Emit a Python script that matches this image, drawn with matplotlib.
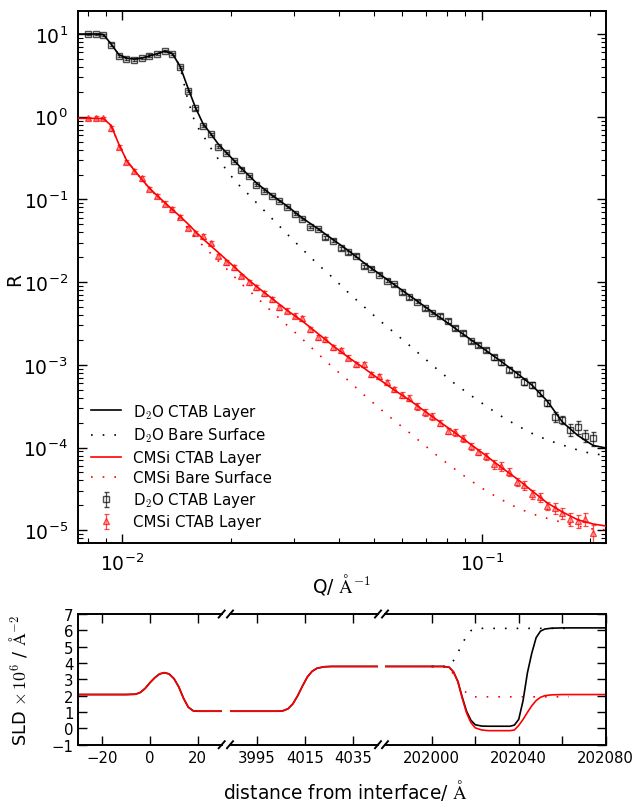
import numpy as np
import matplotlib
matplotlib.use('Agg')
import matplotlib.pyplot as plt
from matplotlib.ticker import FixedLocator, FixedFormatter, NullFormatter, LogLocator

plt.rcParams['font.family'] = ['DejaVu Sans']
plt.rcParams['mathtext.fontset'] = 'cm'

# ---------------- reflectivity data ----------------
q = [0.00803, 0.008433, 0.008857, 0.009302, 0.009769, 0.010260, 0.010775, 0.011316, 0.011884, 0.012481,
     0.013108, 0.013766, 0.014457, 0.015183, 0.015946, 0.016747, 0.017588, 0.018471, 0.019399, 0.020373,
     0.021396, 0.022471, 0.023599, 0.024784, 0.026029, 0.027336, 0.028709, 0.030151, 0.031665, 0.033255,
     0.034925, 0.036679, 0.038521, 0.040455, 0.042487, 0.044620, 0.046861, 0.049214, 0.051685, 0.054281,
     0.057007, 0.059870, 0.062876, 0.066034, 0.069350, 0.072833, 0.076491, 0.080332, 0.084366, 0.088603,
     0.093053, 0.097726, 0.10263, 0.10779, 0.11320, 0.11888, 0.12485, 0.13112, 0.13771, 0.14462,
     0.15188, 0.15951, 0.16752, 0.17593, 0.18477, 0.19404, 0.20379]

r_d2o = [10.0, 10.0, 9.8, 7.47, 5.39, 5.01, 4.87, 5.17, 5.50, 5.78,
         6.27, 5.70, 4.03, 2.06, 1.26, 0.778, 0.618, 0.427, 0.364, 0.293,
         0.230, 0.190, 0.148, 0.126, 0.109, 0.0948, 0.0809, 0.0661, 0.0580, 0.0461,
         0.0435, 0.0348, 0.0317, 0.0258, 0.0229, 0.0208, 0.01545, 0.01460, 0.01236, 0.01040,
         0.00940, 0.00753, 0.00655, 0.00580, 0.00482, 0.00423, 0.00393, 0.00339, 0.00281, 0.00243,
         0.00192, 0.00175, 0.00152, 0.00124, 0.00107, 0.000873, 0.000774, 0.000628, 0.000570, 0.000456,
         0.000345, 0.000236, 0.000217, 0.000164, 0.000179, 0.000139, 0.000130]

err_d2o = [0.03, 0.03, 0.03, 0.03, 0.03, 0.03, 0.03, 0.03, 0.03, 0.03,
           0.03, 0.03, 0.03, 0.03, 0.03, 0.03, 0.03, 0.03, 0.03, 0.03,
           0.03, 0.03, 0.03, 0.03, 0.03, 0.03, 0.03, 0.03, 0.03, 0.03,
           0.03, 0.04, 0.04, 0.04, 0.04, 0.04, 0.04, 0.04, 0.04, 0.04,
           0.04, 0.04, 0.04, 0.04, 0.04, 0.04, 0.05, 0.05, 0.05, 0.05,
           0.05, 0.05, 0.05, 0.07, 0.07, 0.07, 0.07, 0.09, 0.09, 0.09,
           0.09, 0.13, 0.12, 0.16, 0.18, 0.17, 0.20]

r_cmsi = [0.957, 0.964, 0.957, 0.724, 0.434, 0.286, 0.222, 0.180, 0.1336, 0.1109,
          0.0892, 0.0759, 0.0616, 0.0448, 0.0393, 0.0358, 0.0297, 0.0209, 0.0173, 0.0151,
          0.01195, 0.00995, 0.00865, 0.00738, 0.00625, 0.00496, 0.00451, 0.00393, 0.00365, 0.00271,
          0.00217, 0.00203, 0.00162, 0.00150, 0.00122, 0.00101, 0.00102, 0.000774, 0.000733, 0.000620,
          0.000510, 0.000431, 0.000397, 0.000315, 0.000267, 0.000238, 0.000198, 0.000160, 0.000153, 0.000129,
          0.000103, 8.9e-5, 7.83e-5, 6.32e-5, 5.93e-5, 5.10e-5, 3.86e-5, 3.52e-5, 2.74e-5, 2.50e-5,
          1.98e-5, 1.84e-5, 1.61e-5, 1.37e-5, 1.30e-5, 1.37e-5, 9.2e-6]

err_cmsi = [0.05, 0.05, 0.05, 0.06, 0.06, 0.06, 0.06, 0.06, 0.06, 0.06,
            0.06, 0.06, 0.06, 0.06, 0.06, 0.06, 0.06, 0.06, 0.06, 0.06,
            0.06, 0.07, 0.07, 0.07, 0.07, 0.07, 0.07, 0.07, 0.07, 0.07,
            0.07, 0.07, 0.07, 0.07, 0.07, 0.07, 0.07, 0.07, 0.07, 0.07,
            0.07, 0.09, 0.09, 0.09, 0.09, 0.09, 0.09, 0.09, 0.09, 0.09,
            0.09, 0.09, 0.09, 0.12, 0.12, 0.12, 0.12, 0.12, 0.12, 0.12,
            0.12, 0.15, 0.15, 0.17, 0.18, 0.18, 0.25]

# ---------------- model curves ----------------
q_model = [0.0075, 0.00803, 0.008433, 0.008857, 0.009302, 0.009769, 0.010260, 0.010775, 0.011316, 0.011884,
           0.012481, 0.013108, 0.013766, 0.014457, 0.015183, 0.015946, 0.016747, 0.017588, 0.018471, 0.019399,
           0.020373, 0.021396, 0.022471, 0.023599, 0.026029, 0.028709, 0.031665, 0.034925, 0.038521, 0.042487,
           0.046861, 0.051685, 0.057007, 0.062876, 0.069350, 0.076491, 0.084366, 0.093053, 0.10263, 0.11320,
           0.12485, 0.13771, 0.15188, 0.16752, 0.18477, 0.20379, 0.2214]

fit_d2o_layer = [10.0, 10.0, 10.0, 9.86, 7.57, 5.65, 5.13, 4.99, 5.13, 5.42,
                 5.78, 6.23, 5.81, 4.10, 2.29, 1.31, 0.828, 0.626, 0.468, 0.374,
                 0.300, 0.240, 0.195, 0.158, 0.113, 0.0832, 0.0596, 0.0445, 0.0327, 0.0241,
                 0.01726, 0.0127, 0.00935, 0.00689, 0.00507, 0.00373, 0.00275, 0.00202, 0.00149, 0.001096,
                 0.000796, 0.000570, 0.000365, 0.000203, 0.000140, 0.000106, 0.0000986]

fit_d2o_bare = [10.0, 10.0, 10.0, 9.86, 7.57, 5.65, 5.13, 4.99, 5.13, 5.42,
                5.78, 6.23, 5.81, 4.10, 1.637, 0.828, 0.601, 0.422, 0.308, 0.233,
                0.1765, 0.1397, 0.1140, 0.0912, 0.0591, 0.0382, 0.0250, 0.0165, 0.01127, 0.00748,
                0.00510, 0.00350, 0.00245, 0.001716, 0.001189, 0.000825, 0.000584, 0.000428, 0.000318, 0.000239,
                0.000186, 0.0001485, 0.0001236, 0.0001072, 0.0000933, 0.0000834, 0.0000811]

fit_cmsi_layer = [0.956, 0.956, 0.956, 0.951, 0.783, 0.468, 0.300, 0.2267, 0.1755, 0.1373,
                  0.1115, 0.0918, 0.0755, 0.0625, 0.0511, 0.0411, 0.0334, 0.0276, 0.02286, 0.01887,
                  0.01557, 0.01281, 0.01060, 0.00887, 0.00637, 0.00456, 0.00338, 0.00240, 0.001702, 0.001232,
                  0.000920, 0.000673, 0.000496, 0.000375, 0.000275, 0.000203, 0.0001497, 0.0001093, 0.0000798, 0.0000576,
                  0.0000422, 0.0000300, 0.0000214, 0.0000166, 0.00001336, 0.00001189, 0.00001124]

fit_cmsi_bare = [0.956, 0.956, 0.956, 0.951, 0.783, 0.468, 0.300, 0.2267, 0.1755, 0.1355,
                 0.1084, 0.0868, 0.0704, 0.0571, 0.0451, 0.0346, 0.0276, 0.02230, 0.01810, 0.01477,
                 0.01189, 0.00962, 0.00792, 0.00655, 0.00441, 0.00301, 0.00205, 0.001370, 0.000928, 0.000646,
                 0.000437, 0.000302, 0.000212, 0.0001510, 0.0001060, 0.0000746, 0.0000542, 0.0000398, 0.0000300, 0.0000235,
                 0.0000188, 0.0000158, 0.0000139, 0.0000124, 0.0000112, 0.0000103, 0.0000101]

# ---------------- SLD profiles ----------------
z = [-30, -10, -6, -4, -2, 0, 2, 4, 6, 8, 10, 12, 14, 16, 18, 20, 30,
     4004, 4006, 4008, 4010, 4012, 4014, 4016, 4018, 4020, 4023, 4026, 4045,
     202005, 202008, 202010, 202012, 202014, 202016, 202018, 202020, 202023, 202026,
     202036, 202038, 202040, 202042, 202044, 202046, 202048, 202050, 202052, 202055, 202060, 202080]

sld_cmsi_layer = [2.07, 2.07, 2.09, 2.2, 2.45, 2.8, 3.1, 3.33, 3.41, 3.33, 3.05, 2.55, 1.85, 1.3, 1.08, 1.05, 1.05,
                  1.05, 1.08, 1.2, 1.5, 2.0, 2.6, 3.15, 3.5, 3.68, 3.77, 3.79, 3.79,
                  3.79, 3.74, 3.45, 2.85, 1.85, 0.95, 0.35, 0.03, -0.1, -0.14,
                  -0.14, -0.1, 0.18, 0.55, 0.98, 1.38, 1.7, 1.9, 2.0, 2.05, 2.07, 2.07]

sld_d2o_layer = [2.07, 2.07, 2.09, 2.2, 2.45, 2.8, 3.1, 3.33, 3.41, 3.33, 3.05, 2.55, 1.85, 1.3, 1.08, 1.05, 1.05,
                 1.05, 1.08, 1.2, 1.5, 2.0, 2.6, 3.15, 3.5, 3.68, 3.77, 3.79, 3.79,
                 3.79, 3.74, 3.46, 2.88, 1.92, 1.05, 0.5, 0.22, 0.14, 0.13,
                 0.13, 0.2, 0.55, 1.7, 3.4, 4.6, 5.55, 5.95, 6.08, 6.13, 6.15, 6.15]

z_bare = [202000, 202006, 202008, 202010, 202012, 202014, 202016, 202018, 202020, 202023, 202063]
sld_d2o_bare = [3.79, 3.79, 3.84, 4.15, 4.62, 5.18, 5.65, 5.98, 6.1, 6.12, 6.12]
sld_cmsi_bare = [3.79, 3.79, 3.75, 3.3, 2.8, 2.5, 2.15, 1.97, 1.93, 1.93, 1.93]

# ---------------- figure ----------------
W, H = 638, 804
fig = plt.figure(figsize=(W / 100, H / 100), dpi=100)

def fx(px):
    return px / W

def fy(py):
    return 1 - py / H

dot = (0, (1, 6))
LW = 1.2

ax = fig.add_axes([fx(77.5), fy(544), fx(606) - fx(77.5), fy(12) - fy(544)])
eb1 = ax.errorbar(q, r_d2o, yerr=np.array(r_d2o) * np.array(err_d2o), fmt='s', ms=5,
                  mfc='none', mec='k', ecolor='k', elinewidth=0.9, capsize=1.8, mew=1.0,
                  alpha=0.7, label='D$_2$O CTAB Layer', zorder=2)
eb2 = ax.errorbar(q, r_cmsi, yerr=np.array(r_cmsi) * np.array(err_cmsi), fmt='^', ms=5,
                  mfc=(1.0, 0.55, 0.55), mec='red', ecolor='red', elinewidth=0.9, capsize=1.8, mew=0.9,
                  alpha=0.7, label='CMSi CTAB Layer', zorder=2)
l1, = ax.plot(q_model, fit_d2o_layer, color='k', lw=LW, label='D$_2$O CTAB Layer', zorder=3)
l2, = ax.plot(q_model, fit_d2o_bare, color='k', lw=LW, ls=dot, label='D$_2$O Bare Surface', zorder=3)
l3, = ax.plot(q_model, fit_cmsi_layer, color='red', lw=LW, label='CMSi CTAB Layer', zorder=3)
l4, = ax.plot(q_model, fit_cmsi_bare, color='red', lw=LW, ls=dot, label='CMSi Bare Surface', zorder=3)

ax.set_xscale('log')
ax.set_yscale('log')
ax.set_xlim(0.0075, 0.2214)
ax.set_ylim(7.0e-6, 19.0)
ax.xaxis.set_minor_formatter(NullFormatter())
ax.yaxis.set_minor_formatter(NullFormatter())
ax.yaxis.set_major_locator(LogLocator(base=10, numticks=20))
ax.yaxis.set_minor_locator(LogLocator(base=10, subs=np.arange(2, 10), numticks=20))
ax.tick_params(which='both', direction='in', top=True, right=True, labelsize=13.5)
ax.tick_params(which='major', length=6.5, width=1.0, pad=7)
ax.tick_params(which='minor', length=3.5, width=0.8)
for s in ax.spines.values():
    s.set_linewidth(1.4)
ax.set_xlabel(r'Q/ $\mathrm{\AA}^{-1}$', fontsize=13.4)
ax.xaxis.set_label_coords(0.5, (544 - 572) / 532)
ax.set_ylabel('R', fontsize=13.4)
ax.yaxis.set_label_coords((24 - 77.5) / 528.5, (544 - 280) / 532)

ax.legend([l1, l2, l3, l4, eb1, eb2],
          ['D$_2$O CTAB Layer', 'D$_2$O Bare Surface', 'CMSi CTAB Layer', 'CMSi Bare Surface',
           'D$_2$O CTAB Layer', 'CMSi CTAB Layer'],
          loc='lower left', frameon=False, fontsize=10.8, labelspacing=0.35,
          handlelength=2.0, handletextpad=0.8, borderaxespad=0.5)

# ---------------- SLD broken axes ----------------
y0, y1 = fy(745.7), fy(615)
panels = [(78.3, 221.7, (-30, 30)), (230, 378, (3984, 4045.2)), (385, 605.7, (201978.5, 202080))]
axes = []
for i, (p0, p1, xl) in enumerate(panels):
    a = fig.add_axes([fx(p0), y0, fx(p1) - fx(p0), y1 - y0])
    a.plot(z, sld_d2o_layer, color='k', lw=LW)
    a.plot(z, sld_cmsi_layer, color='red', lw=LW)
    a.plot(z_bare, sld_d2o_bare, color='k', lw=LW, ls=dot)
    a.plot(z_bare, sld_cmsi_bare, color='red', lw=LW, ls=dot)
    a.set_xlim(*xl)
    a.set_ylim(-1, 7)
    for s in a.spines.values():
        s.set_linewidth(1.4)
    a.tick_params(which='both', direction='in', top=True, labelsize=10.7, length=6.5, width=1.0)
    axes.append(a)

axl, axm, axr = axes
axl.spines['right'].set_visible(False)
axm.spines['left'].set_visible(False)
axm.spines['right'].set_visible(False)
axr.spines['left'].set_visible(False)
axl.yaxis.set_major_locator(FixedLocator([-1, 0, 1, 2, 3, 4, 5, 6, 7]))
axl.tick_params(axis='y', left=True, right=False)
axm.tick_params(axis='y', left=False, right=False, labelleft=False)
axr.tick_params(axis='y', left=False, right=True, labelleft=False)
axr.yaxis.set_major_locator(FixedLocator([-1, 0, 1, 2, 3, 4, 5, 6, 7]))

axl.xaxis.set_major_locator(FixedLocator([-20, 0, 20]))
axl.xaxis.set_major_formatter(FixedFormatter(['\u221220', '0', '20']))
axm.xaxis.set_major_locator(FixedLocator([3995, 4015, 4035]))
axm.xaxis.set_major_formatter(FixedFormatter(['3995', '4015', '4035']))
axr.xaxis.set_major_locator(FixedLocator([202000, 202020, 202040, 202060, 202080]))
axr.xaxis.set_major_formatter(FixedFormatter(['202000', '', '202040', '', '202080']))

axl.set_ylabel(r'SLD $\times\,10^6$ / $\mathrm{\AA}^{-2}$', fontsize=12.8)
axl.yaxis.set_label_coords((29 - 78.3) / 143.4, 0.5)

# break marks
for a, sides in ((axl, [1]), (axm, [0, 1]), (axr, [0])):
    bb = a.get_position()
    wpx = bb.width * W
    hpx = bb.height * H
    dx = 3.0 / wpx
    dy = 3.5 / hpx
    for xs in sides:
        for ys in (0, 1):
            a.plot([xs - dx, xs + dx], [ys - dy, ys + dy], transform=a.transAxes,
                   color='k', lw=1.4, clip_on=False)

fig.text(fx(345), fy(799), 'distance from interface/ $\\mathrm{\\AA}$', fontsize=13.4,
         ha='center', va='baseline')

fig.savefig('out.png', dpi=100)
